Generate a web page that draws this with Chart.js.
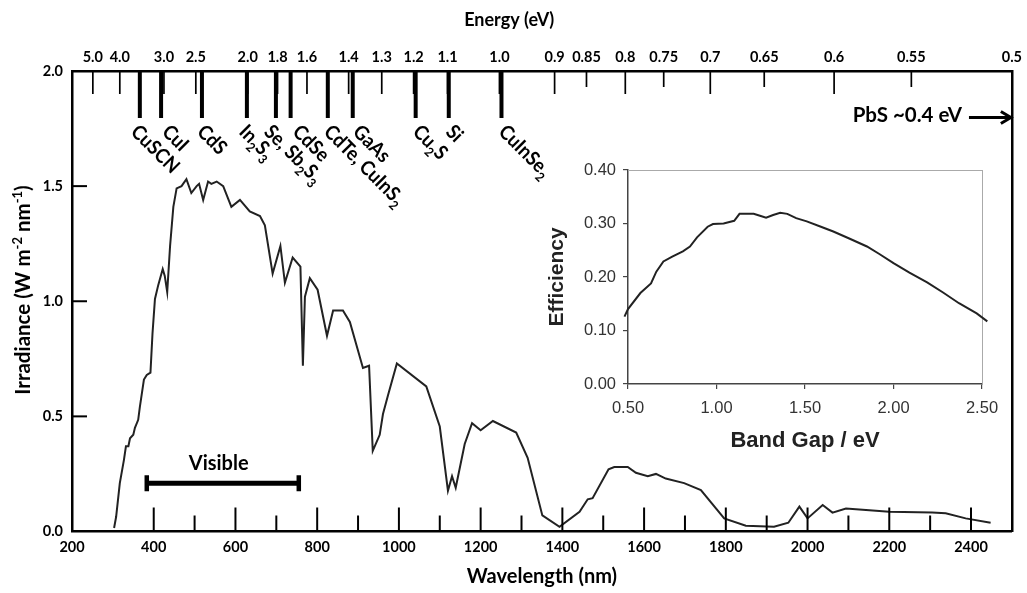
<!DOCTYPE html>
<html>
<head>
<meta charset="utf-8">
<script src="https://cdn.jsdelivr.net/npm/chart.js@4.4.1/dist/chart.umd.min.js"></script>
<style>
  html, body { margin: 0; padding: 0; background: #fff; }
  #wrap { position: relative; width: 1027px; height: 593px; }
  #main { position: absolute; left: 0; top: 0; }
  #inset { position: absolute; left: 530px; top: 150px; }
</style>
</head>
<body>
<div id="wrap">
  <canvas id="main" width="1027" height="593"></canvas>
  <canvas id="inset" width="480" height="310"></canvas>
</div>
<script>
// Solar spectrum
const wavelength = [303,308,317,327,332,338,342,350,354,362,366,376,383,392,397,403,411,422,427,433,
  440,448,456,468,480,492,505,511,521,533,541,554,570,590,611,635,660,672,691,710,
  721,740,759,765,770,782,801,824,839,863,880,912,927,936,953,961,973,995,1067,1100,
  1120,1130,1139,1161,1179,1200,1230,1287,1315,1351,1393,1442,1462,1474,1513,1527,1560,1580,1609,1629,
  1653,1698,1739,1796,1849,1918,1953,1980,2000,2037,2061,2094,2143,2200,2305,2338,2387,2448];
const irradiance = [0.015,0.064,0.21,0.31,0.37,0.37,0.405,0.42,0.45,0.485,0.54,0.66,0.68,0.69,0.86,1.01,1.07,1.14,1.11,1.04,
  1.24,1.41,1.49,1.50,1.53,1.47,1.50,1.51,1.44,1.52,1.51,1.52,1.50,1.41,1.44,1.39,1.37,1.33,1.12,1.24,
  1.08,1.19,1.15,0.72,1.02,1.10,1.05,0.85,0.96,0.96,0.91,0.71,0.72,0.35,0.42,0.51,0.59,0.73,0.63,0.456,
  0.177,0.24,0.19,0.38,0.47,0.44,0.48,0.43,0.32,0.07,0.02,0.086,0.14,0.145,0.27,0.28,0.28,0.255,0.24,0.25,
  0.23,0.21,0.18,0.057,0.025,0.021,0.038,0.108,0.057,0.115,0.082,0.10,0.093,0.086,0.083,0.079,0.057,0.038];

// axes
const xTicks = [200,400,600,800,1000,1200,1400,1600,1800,2000,2200,2400];
const xMinorTicks = [500,700,900,1100,1300,1500,1700,1900,2100,2300];
const yTicks = [0,0.5,1.0,1.5,2.0];
const energyLabels = ['5.0','4.0','3.0','2.5','2.0','1.8','1.6','1.4','1.3','1.2','1.1','1.0',
  '0.9','0.85','0.8','0.75','0.7','0.65','0.6','0.55','0.5'];
const energyNm = [251,317,425,503,630,703,775,877,958,1036,1119,1246,
  1381,1459,1554,1648,1762,1894,2065,2254,2500];

// absorber band edges
const materials = ['CuSCN','CuI','CdS','In_2S_3','Se, Sb_2S_3','CdSe','CdTe, CuInS_2','GaAs','Cu_2S','Si','CuInSe_2'];
const materialNm = [366,418,518,628,699,735,826,887,1041,1122,1251];
// where each slanted label starts, in px from its marker
const labelShift = [-10, 0, -6, -9, -13, 1, -5, -1, -4, -4, -4];

const visibleRange = [383, 755];

// inset: efficiency vs band gap
const bandGap = [0.48,0.50,0.57,0.63,0.66,0.70,0.75,0.81,0.85,0.89,0.95,0.98,1.04,1.10,1.13,1.21,1.25,1.28,
  1.32,1.36,1.40,1.45,1.51,1.59,1.66,1.75,1.85,1.92,2.00,2.09,2.19,2.28,2.37,2.47,2.53];
const efficiency = [0.126,0.14,0.17,0.188,0.21,0.229,0.238,0.248,0.257,0.274,0.294,0.299,0.30,0.305,0.318,0.318,0.314,0.311,
  0.316,0.32,0.318,0.31,0.304,0.294,0.285,0.272,0.257,0.243,0.226,0.208,0.19,0.171,0.151,0.132,0.117];
const gapTicks = [0.5,1.0,1.5,2.0,2.5];
const effTicks = [0,0.1,0.2,0.3,0.4];

const F = 'Lato, "Open Sans", sans-serif';
const G = '"Liberation Sans", Arial, sans-serif';

// "In_2S_3" -> subscripts, "m^-2" -> superscripts
function parseRich(str) {
  const parts = [];
  const re = /([_^])(-?\d)/g;
  let last = 0, m;
  while ((m = re.exec(str))) {
    if (m.index > last) parts.push([str.slice(last, m.index), 0]);
    parts.push([m[2], m[1] === '_' ? 1 : -1]);
    last = re.lastIndex;
  }
  if (last < str.length) parts.push([str.slice(last), 0]);
  return parts;
}

// sx squeezes the text horizontally (the original uses a narrow font)
function drawRich(ctx, str, x, y, angle, size, align, sx) {
  const parts = parseRich(str);
  const fontFor = s => `bold ${s ? Math.round(size * 0.65) : size}px ${F}`;
  let total = 0;
  parts.forEach(p => { ctx.font = fontFor(p[1]); total += ctx.measureText(p[0]).width; });
  ctx.save();
  ctx.translate(x, y);
  ctx.rotate(angle);
  ctx.scale(sx || 1, 1);
  ctx.textAlign = 'left';
  ctx.textBaseline = 'alphabetic';
  ctx.fillStyle = '#000';
  let cx = align === 'center' ? -total / 2 : 0;
  parts.forEach(p => {
    ctx.font = fontFor(p[1]);
    const dy = p[1] === 1 ? size * 0.28 : (p[1] === -1 ? -size * 0.4 : 0);
    ctx.fillText(p[0], cx, dy);
    cx += ctx.measureText(p[0]).width;
  });
  ctx.restore();
}

function seg(ctx, x1, y1, x2, y2, w) {
  ctx.lineWidth = w;
  ctx.beginPath();
  ctx.moveTo(x1, y1);
  ctx.lineTo(x2, y2);
  ctx.stroke();
}

// inner ticks, band-edge markers and text labels
const overlay = {
  id: 'overlay',
  afterDatasetsDraw(chart) {
    const {ctx, chartArea: a, scales: {x, y}} = chart;
    ctx.save();
    ctx.strokeStyle = '#000';
    ctx.fillStyle = '#000';

    xTicks.slice(1).forEach(v => { const px = x.getPixelForValue(v); seg(ctx, px, a.bottom, px, a.bottom - 24, 2); });
    xMinorTicks.forEach(v => { const px = x.getPixelForValue(v); seg(ctx, px, a.bottom, px, a.bottom - 16, 2); });
    yTicks.slice(1, -1).forEach(v => { const py = y.getPixelForValue(v); seg(ctx, a.left, py, a.left + 15, py, 2); });

    energyLabels.forEach((l, i) => {
      const px = x.getPixelForValue(energyNm[i]);
      if (px > a.right - 6) return;
      seg(ctx, px, a.top, px, a.top + (l.length > 3 ? 16 : 23), 1.7);
    });

    materialNm.forEach((nm, i) => {
      const px = x.getPixelForValue(nm);
      seg(ctx, px, a.top, px, a.top + 47, 4);
      drawRich(ctx, materials[i], px + labelShift[i], a.top + 62, Math.PI / 4, 20, 'left', 0.92);
    });

    // top title, placed off-centre as in the original
    ctx.font = `bold 18px ${F}`;
    ctx.textAlign = 'center';
    ctx.textBaseline = 'middle';
    ctx.fillText('Energy (eV)', x.getPixelForValue(1270), 20);

    // visible band label
    ctx.font = `bold 20px ${F}`;
    ctx.fillText('Visible', x.getPixelForValue(559), y.getPixelForValue(0.293));

    // PbS arrow
    const ay = y.getPixelForValue(1.798);
    ctx.font = `bold 20.5px ${F}`;
    ctx.textAlign = 'right';
    ctx.fillText('PbS ~0.4 eV', x.getPixelForValue(2378), ay - 2);
    seg(ctx, x.getPixelForValue(2395), ay, a.right, ay, 3);
    ctx.lineWidth = 3;
    ctx.beginPath();
    ctx.moveTo(a.right - 11, ay - 6);
    ctx.lineTo(a.right - 1, ay);
    ctx.lineTo(a.right - 11, ay + 6);
    ctx.stroke();

    // y-axis title with superscripts
    drawRich(ctx, 'Irradiance (W m^-2 nm^-1)', 30, 290, -Math.PI / 2, 20.5, 'center', 1);
    ctx.restore();
  }
};

const boldTick = {family: F, size: 14.5, weight: 'bold'};
const boldTitle = {family: F, size: 20, weight: 'bold'};

new Chart(document.getElementById('main'), {
  type: 'scatter',
  data: {
    datasets: [
      {
        data: wavelength.map((w, i) => ({x: w, y: irradiance[i]})),
        showLine: true,
        borderColor: '#222',
        borderWidth: 2,
        pointRadius: 0,
        tension: 0
      },
      {
        data: visibleRange.map(w => ({x: w, y: 0.21})),
        showLine: true,
        borderColor: '#000',
        borderWidth: 5,
        pointStyle: 'line',
        rotation: 90,
        pointRadius: 8,
        pointBorderWidth: 4.5,
        pointBorderColor: '#000'
      }
    ]
  },
  options: {
    responsive: false,
    animation: false,
    events: [],
    layout: {padding: {left: 0, right: 13, top: 0, bottom: 0}},
    plugins: {legend: {display: false}, tooltip: {enabled: false}},
    scales: {
      x: {
        type: 'linear', position: 'bottom', min: 200, max: 2500,
        afterBuildTicks: s => { s.ticks = xTicks.map(v => ({value: v})); },
        ticks: {callback: v => String(v), font: boldTick, color: '#000', padding: 7, maxRotation: 0, autoSkip: false},
        grid: {drawOnChartArea: false, drawTicks: false},
        border: {color: '#000', width: 2.5},
        title: {display: true, text: 'Wavelength (nm)', font: boldTitle, color: '#000', padding: {top: 0, bottom: 4}},
        afterFit: s => { s.height = 61.5; }
      },
      xTop: {
        type: 'linear', position: 'top', min: 200, max: 2500,
        afterBuildTicks: s => { s.ticks = energyNm.map(v => ({value: v})); },
        ticks: {callback: (v, i) => energyLabels[i], font: boldTick, color: '#000', padding: 5, maxRotation: 0, autoSkip: false},
        grid: {drawOnChartArea: false, drawTicks: false},
        border: {color: '#000', width: 2.5},
        afterFit: s => { s.height = 71; }
      },
      y: {
        type: 'linear', position: 'left', min: 0, max: 2,
        afterBuildTicks: s => { s.ticks = yTicks.map(v => ({value: v})); },
        ticks: {callback: v => v.toFixed(1), font: boldTick, color: '#000', padding: 9},
        grid: {drawOnChartArea: false, drawTicks: false},
        border: {color: '#000', width: 2.5},
        afterFit: s => { s.width = 72; }
      },
      yRight: {
        type: 'linear', position: 'right', min: 0, max: 2,
        ticks: {display: false},
        grid: {drawOnChartArea: false, drawTicks: false},
        border: {color: '#000', width: 2.5},
        afterFit: s => { s.width = 0; }
      }
    }
  },
  plugins: [overlay]
});

const grayTick = {family: G, size: 16.5};
const grayTitle = {family: G, size: 21, weight: 'bold'};

new Chart(document.getElementById('inset'), {
  type: 'scatter',
  data: {
    datasets: [{
      data: bandGap.map((b, i) => ({x: b, y: efficiency[i]})),
      showLine: true,
      borderColor: '#222',
      borderWidth: 2,
      pointRadius: 0,
      tension: 0,
      clip: false
    }]
  },
  options: {
    responsive: false,
    animation: false,
    events: [],
    layout: {padding: {left: 0, right: 28, top: 20, bottom: 0}},
    plugins: {legend: {display: false}, tooltip: {enabled: false}},
    scales: {
      x: {
        type: 'linear', position: 'bottom', min: 0.5, max: 2.5,
        afterBuildTicks: s => { s.ticks = gapTicks.map(v => ({value: v})); },
        ticks: {callback: v => v.toFixed(2), font: grayTick, color: '#333', padding: 10, maxRotation: 0},
        grid: {drawOnChartArea: false, tickLength: 5, color: '#444', lineWidth: 1.2},
        border: {color: '#444', width: 1.5},
        title: {display: true, text: 'Band Gap / eV', font: {family: G, size: 22, weight: 'bold'}, color: '#222', padding: {top: 0, bottom: 6}},
        afterFit: s => { s.height = 76; }
      },
      y: {
        type: 'linear', position: 'left', min: 0, max: 0.4,
        afterBuildTicks: s => { s.ticks = effTicks.map(v => ({value: v})); },
        ticks: {callback: v => v.toFixed(2), font: grayTick, color: '#333', padding: 7},
        grid: {drawOnChartArea: false, tickLength: 5, color: '#444', lineWidth: 1.2},
        border: {color: '#444', width: 1.5},
        title: {display: true, text: 'Efficiency', font: grayTitle, color: '#222', padding: {top: 15, bottom: 0}},
        afterFit: s => { s.width = 98; }
      },
      x2: {
        type: 'linear', position: 'top', min: 0.5, max: 2.5,
        ticks: {display: false},
        grid: {drawOnChartArea: false, drawTicks: false},
        border: {color: '#aaa', width: 1},
        afterFit: s => { s.height = 0; }
      },
      y2: {
        type: 'linear', position: 'right', min: 0, max: 0.4,
        ticks: {display: false},
        grid: {drawOnChartArea: false, drawTicks: false},
        border: {color: '#aaa', width: 1},
        afterFit: s => { s.width = 0; }
      }
    }
  }
});
</script>
</body>
</html>
